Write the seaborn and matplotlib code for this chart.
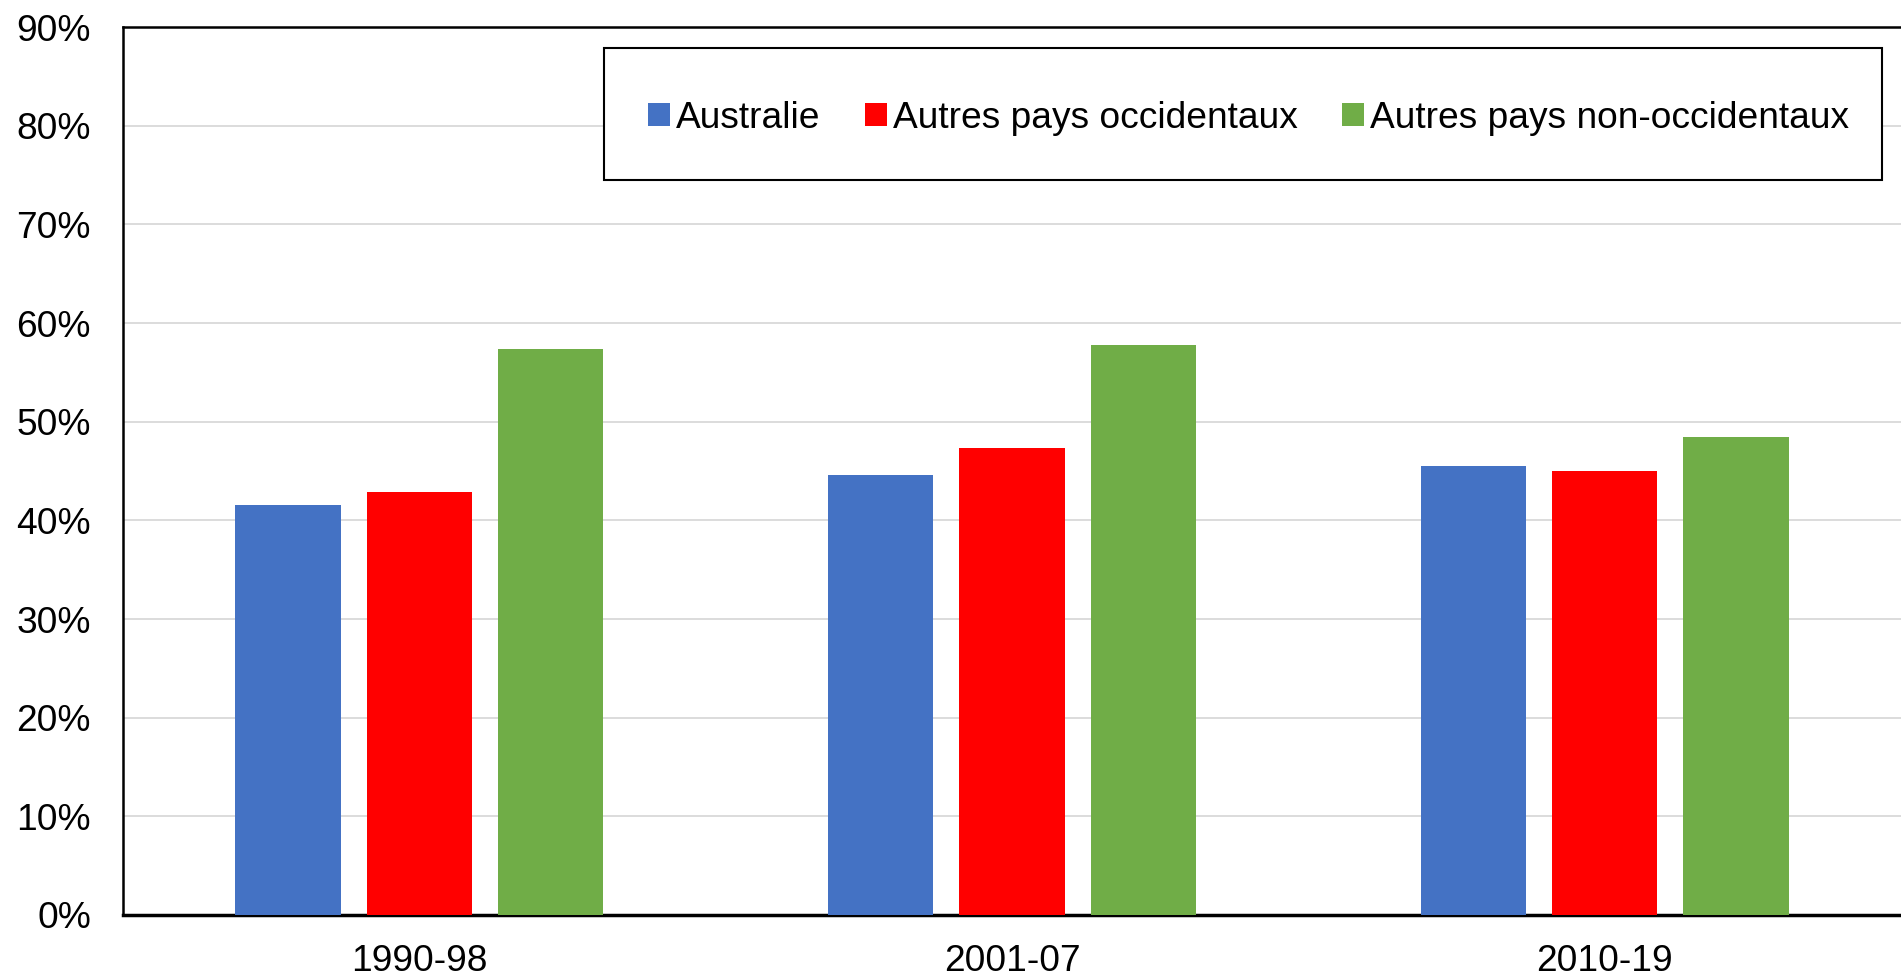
import matplotlib
matplotlib.use("Agg")
import matplotlib.pyplot as plt
from matplotlib.patches import Rectangle
import seaborn as sns
import pandas as pd

# values (%)
periods = ["1990-98", "2001-07", "2010-19"]
groups = ["Australie", "Autres pays occidentaux", "Autres pays non-occidentaux"]
australie = [41.6, 44.6, 45.5]
occidentaux = [42.9, 47.3, 45.0]
non_occidentaux = [57.4, 57.8, 48.4]
colors = ["#4472C4", "#FF0000", "#70AD47"]
yticks = [0, 10, 20, 30, 40, 50, 60, 70, 80, 90]

df = pd.DataFrame({
    "period": periods * 3,
    "group": [groups[0]] * 3 + [groups[1]] * 3 + [groups[2]] * 3,
    "value": australie + occidentaux + non_occidentaux,
})

sns.set_style("white")
plt.rcParams["font.family"] = ["Liberation Sans", "DejaVu Sans"]
plt.rcParams["text.color"] = "black"
plt.rcParams["xtick.color"] = "black"
plt.rcParams["ytick.color"] = "black"

fs = 26.7

fig = plt.figure(figsize=(19.01, 9.76), dpi=100)
ax = fig.add_axes([0.0647, 0.0625, 0.9353, 0.9098])

sns.barplot(df, x="period", y="value", hue="group", order=periods,
            hue_order=groups, palette=colors, width=0.665, gap=0.2,
            saturation=1, linewidth=0, ax=ax, zorder=3)

ax.set_xlim(-0.5, 2.5)
ax.set_ylim(0, 90)
ax.set_yticks(yticks)
ax.set_yticklabels([f"{t}%" for t in yticks])
ax.yaxis.grid(True, color="#d9d9d9", linewidth=1.3, zorder=0)
ax.set_axisbelow(True)
ax.tick_params(axis="both", length=0, labelsize=fs, labelcolor="black")
ax.tick_params(axis="y", pad=23)
ax.tick_params(axis="x", pad=21)
ax.set_xlabel("")
ax.set_ylabel("")

for side in ["left", "bottom", "top"]:
    ax.spines[side].set_color("black")
    ax.spines[side].set_linewidth(1.8)
ax.spines["bottom"].set_linewidth(2.5)
ax.spines["right"].set_visible(False)

# legend frame drawn separately so its width matches the original
ax.add_patch(Rectangle((0.2705, 0.8277), 0.7188, 0.1486, transform=ax.transAxes,
                       facecolor="white", edgecolor="black", linewidth=1.5,
                       zorder=4, clip_on=False))
leg = ax.legend(loc="upper left", bbox_to_anchor=(0.2683, 0.9715), ncol=3,
                fontsize=fs, frameon=False,
                handlelength=0.58, handleheight=0.58, handletextpad=0.17,
                columnspacing=1.2, borderpad=1.3, borderaxespad=0)
leg.set_zorder(5)
for t in leg.get_texts():
    t.set_color("black")

fig.savefig("out.png", dpi=100)
